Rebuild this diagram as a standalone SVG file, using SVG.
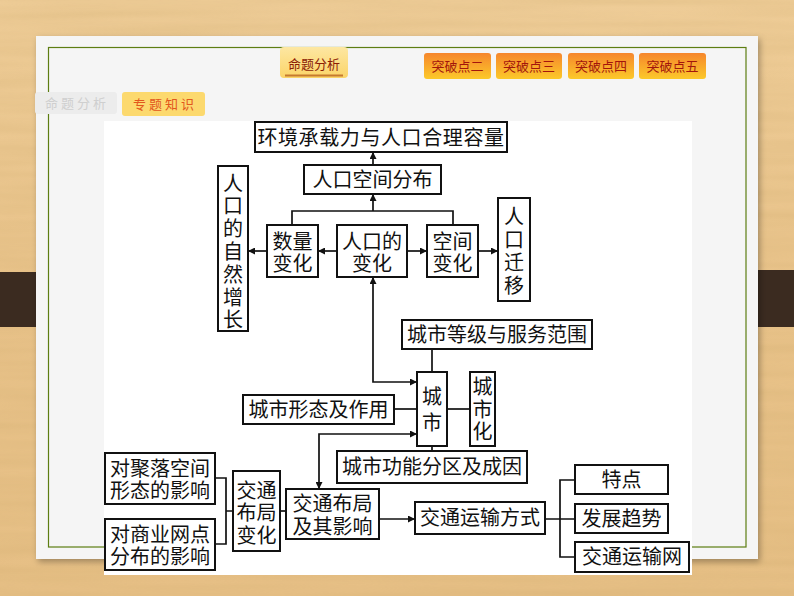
<svg xmlns="http://www.w3.org/2000/svg" width="794" height="596" viewBox="0 0 794 596">
<defs>
<linearGradient id="wood" x1="0" y1="0" x2="0" y2="1">
<stop offset="0" stop-color="#eecc97"/>
<stop offset="0.5" stop-color="#e8c289"/>
<stop offset="1" stop-color="#e6bf85"/>
</linearGradient>
<filter id="grain" x="0" y="0" width="100%" height="100%">
<feTurbulence type="fractalNoise" baseFrequency="0.004 0.09" numOctaves="2" seed="3"/>
<feColorMatrix type="matrix" values="0 0 0 0 0.55  0 0 0 0 0.36  0 0 0 0 0.12  0 0 0 0.9 -0.25"/>
</filter>
<filter id="shadow" x="-5%" y="-5%" width="110%" height="112%">
<feDropShadow dx="2" dy="3" stdDeviation="3" flood-color="#000" flood-opacity="0.3"/>
</filter>
<linearGradient id="tabO" x1="0" y1="0" x2="0" y2="1">
<stop offset="0" stop-color="#f6862c"/>
<stop offset="1" stop-color="#fcc92a"/>
</linearGradient>
<linearGradient id="tabY" x1="0" y1="0" x2="0" y2="1">
<stop offset="0" stop-color="#fde7a2"/>
<stop offset="1" stop-color="#fbd468"/>
</linearGradient>
<marker id="arr" viewBox="0 0 10 10" refX="10" refY="5" markerWidth="9" markerHeight="7" markerUnits="userSpaceOnUse" orient="auto-start-reverse">
<path d="M0,0 L10,5 L0,10 z" fill="#111"/>
</marker>
</defs>
<style>
.box{fill:#fff;stroke:#111;stroke-width:2}
.t{font-family:"Noto Sans CJK SC","Noto Sans",sans-serif;font-size:20px;fill:#111;text-anchor:middle}
.c{fill:none;stroke:#111;stroke-width:1.7}
.tab{font-family:"Noto Sans CJK SC",sans-serif;font-size:13px;text-anchor:middle}
</style>

<!-- background -->
<rect x="0" y="0" width="794" height="596" fill="url(#wood)"/>
<rect x="0" y="0" width="794" height="596" filter="url(#grain)" opacity="0.35"/>

<!-- dark bars -->
<rect x="0" y="272" width="57" height="55" fill="#3b2b20"/>
<rect x="54" y="269" width="5" height="61" rx="2.5" fill="#3b2b20"/>
<rect x="737" y="270" width="57" height="57" fill="#3b2b20"/>
<rect x="735" y="267" width="5" height="63" rx="2.5" fill="#3b2b20"/>

<!-- card -->
<rect x="36" y="36" width="722" height="523" fill="#f5f5f5" filter="url(#shadow)"/>
<rect x="48.5" y="47.5" width="697.5" height="499.5" fill="none" stroke="#5d7d12" stroke-width="1.2"/>

<!-- tabs -->
<g id="tab-mingti">
<rect x="280" y="47" width="68" height="31" rx="4" fill="url(#tabY)"/>
<line x1="285" y1="75.5" x2="343" y2="75.5" stroke="#c67a2e" stroke-width="2"/>
<text class="tab" x="314" y="69" fill="#8b1d05">命题分析</text>
</g>
<g id="tab-2"><rect x="424" y="53" width="67" height="26" rx="3" fill="url(#tabO)"/><text class="tab" x="457.5" y="71" fill="#a3160c">突破点二</text></g>
<g id="tab-3"><rect x="496" y="53" width="66" height="26" rx="3" fill="url(#tabO)"/><text class="tab" x="529" y="71" fill="#a3160c">突破点三</text></g>
<g id="tab-4"><rect x="568" y="53" width="66" height="26" rx="3" fill="url(#tabO)"/><text class="tab" x="601" y="71" fill="#a3160c">突破点四</text></g>
<g id="tab-5"><rect x="639" y="53" width="67" height="26" rx="3" fill="url(#tabO)"/><text class="tab" x="672.5" y="71" fill="#a3160c">突破点五</text></g>
<g id="tab-gray">
<rect x="35" y="92" width="82" height="22" rx="3" fill="#ececec"/>
<text class="tab" x="77" y="107.5" font-size="12" fill="#cfcfcf" letter-spacing="3">命题分析</text>
</g>
<g id="tab-zhuanti">
<rect x="122" y="92" width="83" height="24" rx="3" fill="#fcd96e"/>
<text class="tab" x="165" y="108.5" font-size="12" fill="#e2571c" letter-spacing="3">专题知识</text>
</g>

<!-- diagram panel -->
<rect x="104" y="121" width="588" height="454" fill="#fff"/>

<!-- connectors -->
<g id="connectors">
<path class="c" d="M373,165 V152" marker-end="url(#arr)"/>
<path class="c" d="M292,225 V211 H453 V225"/>
<path class="c" d="M373,211 V194" marker-end="url(#arr)"/>
<path class="c" d="M337,251 H318" marker-end="url(#arr)"/>
<path class="c" d="M267,251 H248" marker-end="url(#arr)"/>
<path class="c" d="M407,251 H427" marker-end="url(#arr)"/>
<path class="c" d="M478,251 H498" marker-end="url(#arr)"/>
<path class="c" d="M373,277 V382 H417" marker-start="url(#arr)" marker-end="url(#arr)"/>
<path class="c" d="M432,349 V372"/>
<path class="c" d="M394,409 H417"/>
<path class="c" d="M447,409 H470"/>
<path class="c" d="M432,446 V451"/>
<path class="c" d="M417,434 H319 V489" marker-start="url(#arr)" marker-end="url(#arr)"/>
<path class="c" d="M215,478 H226 V544 H215 M226,511 H233"/>
<path class="c" d="M280,511 H286"/>
<path class="c" d="M379,519 H415" marker-end="url(#arr)"/>
<path class="c" d="M545,519 H575 M575,480 H560 V557 H575"/>
</g>

<!-- nodes -->
<g id="n-huanjing"><rect class="box" x="255" y="122" width="252" height="30"/><text class="t" x="381" y="144.5" font-size="21" letter-spacing="0.6">环境承载力与人口合理容量</text></g>
<g id="n-kongjianfenbu"><rect class="box" x="304" y="165" width="137" height="29"/><text class="t" x="372.5" y="186.5">人口空间分布</text></g>
<g id="n-ziran"><rect class="box" x="218" y="166" width="30" height="165"/>
<text class="t" x="233" y="190.5">人<tspan x="233" dy="22.8">口</tspan><tspan x="233" dy="22.8">的</tspan><tspan x="233" dy="22.8">自</tspan><tspan x="233" dy="22.8">然</tspan><tspan x="233" dy="22.8">增</tspan><tspan x="233" dy="22.8">长</tspan></text></g>
<g id="n-shuliang"><rect class="box" x="267" y="225" width="51" height="52"/><text class="t" x="292.5" y="248.5">数量<tspan x="292.5" dy="22">变化</tspan></text></g>
<g id="n-renkoubianhua"><rect class="box" x="337" y="225" width="70" height="52"/><text class="t" x="372" y="248.5">人口的<tspan x="372" dy="22">变化</tspan></text></g>
<g id="n-kongjianbianhua"><rect class="box" x="427" y="225" width="51" height="52"/><text class="t" x="452.5" y="248.5">空间<tspan x="452.5" dy="22">变化</tspan></text></g>
<g id="n-qianyi"><rect class="box" x="498" y="198" width="32" height="103"/>
<text class="t" x="514" y="223.5">人<tspan x="514" dy="23">口</tspan><tspan x="514" dy="23">迁</tspan><tspan x="514" dy="23">移</tspan></text></g>
<g id="n-dengji"><rect class="box" x="402" y="320" width="190" height="29"/><text class="t" x="497" y="341.5">城市等级与服务范围</text></g>
<g id="n-chengshi"><rect class="box" x="417" y="372" width="30" height="74"/><text class="t" x="432" y="404">城<tspan x="432" dy="25.5">市</tspan></text></g>
<g id="n-chengshihua"><rect class="box" x="470" y="372" width="25" height="74"/><text class="t" x="482.5" y="393.5">城<tspan x="482.5" dy="23">市</tspan><tspan x="482.5" dy="22.5">化</tspan></text></g>
<g id="n-xingtai"><rect class="box" x="243" y="395" width="151" height="29"/><text class="t" x="318.5" y="416.5">城市形态及作用</text></g>
<g id="n-gongneng"><rect class="box" x="337" y="451" width="190" height="32"/><text class="t" x="432" y="474">城市功能分区及成因</text></g>
<g id="n-juluo"><rect class="box" x="105" y="453" width="110" height="51"/><text class="t" x="160" y="475.5">对聚落空间<tspan x="160" dy="22.5">形态的影响</tspan></text></g>
<g id="n-shangye"><rect class="box" x="105" y="519" width="110" height="51"/><text class="t" x="160" y="542">对商业网点<tspan x="160" dy="22">分布的影响</tspan></text></g>
<g id="n-jiaotongbianhua"><rect class="box" x="233" y="471" width="47" height="80"/><text class="t" x="256.5" y="497.5">交通<tspan x="256.5" dy="22.5">布局</tspan><tspan x="256.5" dy="22.5">变化</tspan></text></g>
<g id="n-yingxiang"><rect class="box" x="286" y="489" width="93" height="50"/><text class="t" x="332.5" y="510.5">交通布局<tspan x="332.5" dy="23">及其影响</tspan></text></g>
<g id="n-fangshi"><rect class="box" x="415" y="502" width="130" height="32"/><text class="t" x="480" y="525">交通运输方式</text></g>
<g id="n-tedian"><rect class="box" x="575" y="465" width="93" height="29"/><text class="t" x="621.5" y="486.5">特点</text></g>
<g id="n-qushi"><rect class="box" x="575" y="504" width="93" height="29"/><text class="t" x="621.5" y="525.5">发展趋势</text></g>
<g id="n-wang"><rect class="box" x="575" y="542" width="114" height="30"/><text class="t" x="632" y="564">交通运输网</text></g>
</svg>
